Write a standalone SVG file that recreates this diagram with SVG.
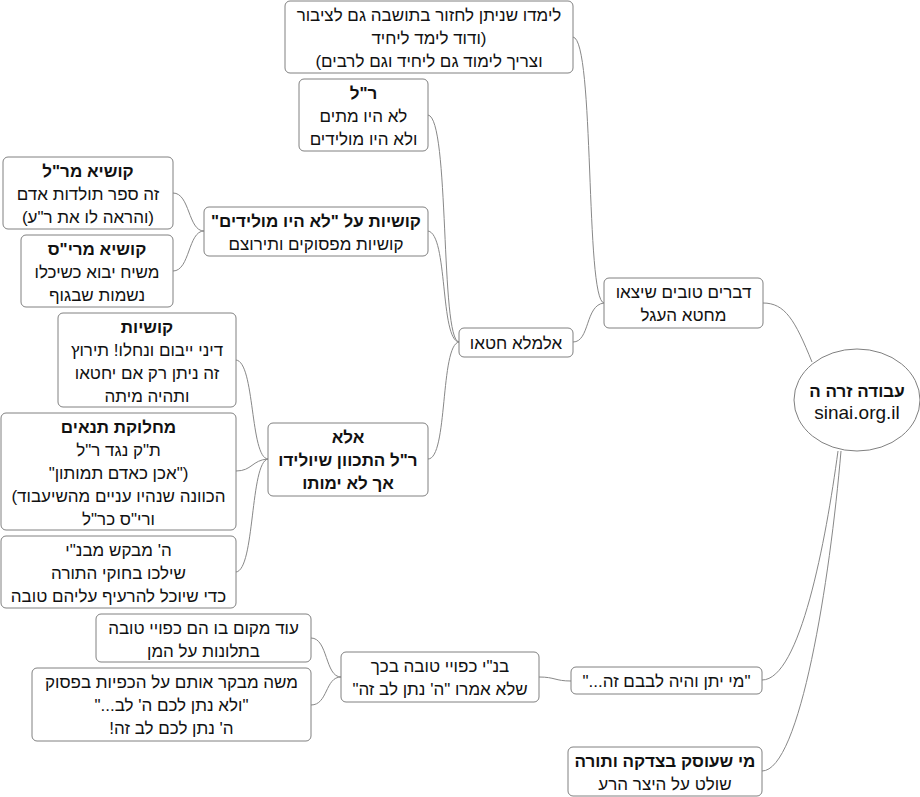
<svg xmlns="http://www.w3.org/2000/svg" width="920" height="797" viewBox="0 0 920 797">
<style>
.box{fill:#fff;stroke:#808080;stroke-width:1}
.t{font-family:"Liberation Sans",Arial,"DejaVu Sans",sans-serif;font-size:17px;fill:#111;text-anchor:middle;direction:rtl;unicode-bidi:embed}
.b{font-weight:bold}
.u{font-size:19px;direction:ltr}
.c{fill:none;stroke:#888;stroke-width:1}
</style>
<rect width="920" height="797" fill="#fff"/>
<g id="connectors">
<path class="c" d="M812,362 C795,320 785,303 763,303"/>
<path class="c" d="M838,451 C826,540 800,680 762,680"/>
<path class="c" d="M841,451 C830,580 800,771 762,771"/>
<path class="c" d="M604,303 C585,300 595,40 573,37"/>
<path class="c" d="M604,303 C585,305 590,342 573,342"/>
<path class="c" d="M459,342 C440,340 450,118 428,115"/>
<path class="c" d="M459,342 C440,340 448,234 428,231"/>
<path class="c" d="M459,342 C440,345 448,459 428,459"/>
<path class="c" d="M268,459 C250,458 255,362 236,360"/>
<path class="c" d="M268,459 C252,460 252,471 236,471"/>
<path class="c" d="M268,459 C250,462 255,570 236,572"/>
<path class="c" d="M204,231 C188,231 190,193 173,193"/>
<path class="c" d="M204,231 C188,231 190,271 173,271"/>
<path class="c" d="M341,677 C325,677 328,638 311,638"/>
<path class="c" d="M341,677 C325,677 328,705 311,705"/>
<path class="c" d="M539,677 C555,677 555,681 571,681"/>
</g>
<g id="root">
<ellipse class="box" cx="857" cy="400" rx="63" ry="51"/>
<text class="t b" x="857" y="397">עבודה זרה ה</text>
<text class="t u" x="857" y="419">sinai.org.il</text>
</g>
<g id="nA">
<rect class="box" x="285" y="1" width="288" height="72" rx="5"/>
<text class="t" x="429" y="21">לימדו שניתן לחזור בתושבה גם לציבור</text>
<text class="t" x="429" y="44">(ודוד לימד ליחיד</text>
<text class="t" x="429" y="67">וצריך לימוד גם ליחיד וגם לרבים)</text>
</g>
<g id="nB">
<rect class="box" x="299" y="79" width="129" height="72" rx="5"/>
<text class="t b" x="363.5" y="99">ר"ל</text>
<text class="t" x="363.5" y="122">לא היו מתים</text>
<text class="t" x="363.5" y="145">ולא היו מולידים</text>
</g>
<g id="nC">
<rect class="box" x="3" y="157" width="170" height="72" rx="5"/>
<text class="t b" x="88" y="177">קושיא מר"ל</text>
<text class="t" x="88" y="200">זה ספר תולדות אדם</text>
<text class="t" x="88" y="223">(והראה לו את ר"ע)</text>
</g>
<g id="nD">
<rect class="box" x="21" y="235" width="152" height="72" rx="5"/>
<text class="t b" x="97" y="255">קושיא מרי"ס</text>
<text class="t" x="97" y="278">משיח יבוא כשיכלו</text>
<text class="t" x="97" y="301">נשמות שבגוף</text>
</g>
<g id="nE">
<rect class="box" x="204" y="207" width="224" height="49" rx="5"/>
<text class="t b" x="316" y="227">קושיות על "לא היו מולידים"</text>
<text class="t" x="316" y="250">קושיות מפסוקים ותירוצם</text>
</g>
<g id="nF">
<rect class="box" x="58" y="313" width="178" height="94" rx="5"/>
<text class="t b" x="147" y="333">קושיות</text>
<text class="t" x="147" y="356">דיני ייבום ונחלו! תירוץ</text>
<text class="t" x="147" y="379">זה ניתן רק אם יחטאו</text>
<text class="t" x="147" y="402">ותהיה מיתה</text>
</g>
<g id="nG">
<rect class="box" x="1" y="413" width="235" height="117" rx="5"/>
<text class="t b" x="118.5" y="433">מחלוקת תנאים</text>
<text class="t" x="118.5" y="456">ת"ק נגד ר"ל</text>
<text class="t" x="118.5" y="479">("אכן כאדם תמותון"</text>
<text class="t" x="118.5" y="502">הכוונה שנהיו עניים מהשיעבוד)</text>
<text class="t" x="118.5" y="525">ורי"ס כר"ל</text>
</g>
<g id="nH">
<rect class="box" x="268" y="423" width="160" height="73" rx="5"/>
<text class="t b" x="348" y="443">אלא</text>
<text class="t b" x="348" y="466">ר"ל התכוון שיולידו</text>
<text class="t b" x="348" y="489">אך לא ימותו</text>
</g>
<g id="nI">
<rect class="box" x="1" y="536" width="235" height="72" rx="5"/>
<text class="t" x="118.5" y="556">ה' מבקש מבנ"י</text>
<text class="t" x="118.5" y="579">שילכו בחוקי התורה</text>
<text class="t" x="118.5" y="602">כדי שיוכל להרעיף עליהם טובה</text>
</g>
<g id="nJ">
<rect class="box" x="604" y="278" width="159" height="50" rx="5"/>
<text class="t" x="683.5" y="298">דברים טובים שיצאו</text>
<text class="t" x="683.5" y="321">מחטא העגל</text>
</g>
<g id="nK">
<rect class="box" x="459" y="328" width="114" height="29" rx="5"/>
<text class="t" x="516" y="349">אלמלא חטאו</text>
</g>
<g id="nL">
<rect class="box" x="96" y="614" width="215" height="48" rx="5"/>
<text class="t" x="203.5" y="634">עוד מקום בו הם כפויי טובה</text>
<text class="t" x="203.5" y="657">בתלונות על המן</text>
</g>
<g id="nM">
<rect class="box" x="32" y="668" width="279" height="73" rx="5"/>
<text class="t" x="171.5" y="688">משה מבקר אותם על הכפיות בפסוק</text>
<text class="t" x="171.5" y="711">"ולא נתן לכם ה' לב..."</text>
<text class="t" x="171.5" y="734">ה' נתן לכם לב זה!</text>
</g>
<g id="nN">
<rect class="box" x="341" y="652" width="198" height="50" rx="5"/>
<text class="t" x="440" y="672">בנ"י כפויי טובה בכך</text>
<text class="t" x="440" y="695">שלא אמרו "ה' נתן לב זה"</text>
</g>
<g id="nO">
<rect class="box" x="571" y="667" width="191" height="27" rx="5"/>
<text class="t" x="666.5" y="687">"מי יתן והיה לבבם זה..."</text>
</g>
<g id="nP">
<rect class="box" x="568" y="747" width="194" height="49" rx="5"/>
<text class="t b" x="665" y="767">מי שעוסק בצדקה ותורה</text>
<text class="t" x="665" y="790">שולט על היצר הרע</text>
</g>
</svg>
